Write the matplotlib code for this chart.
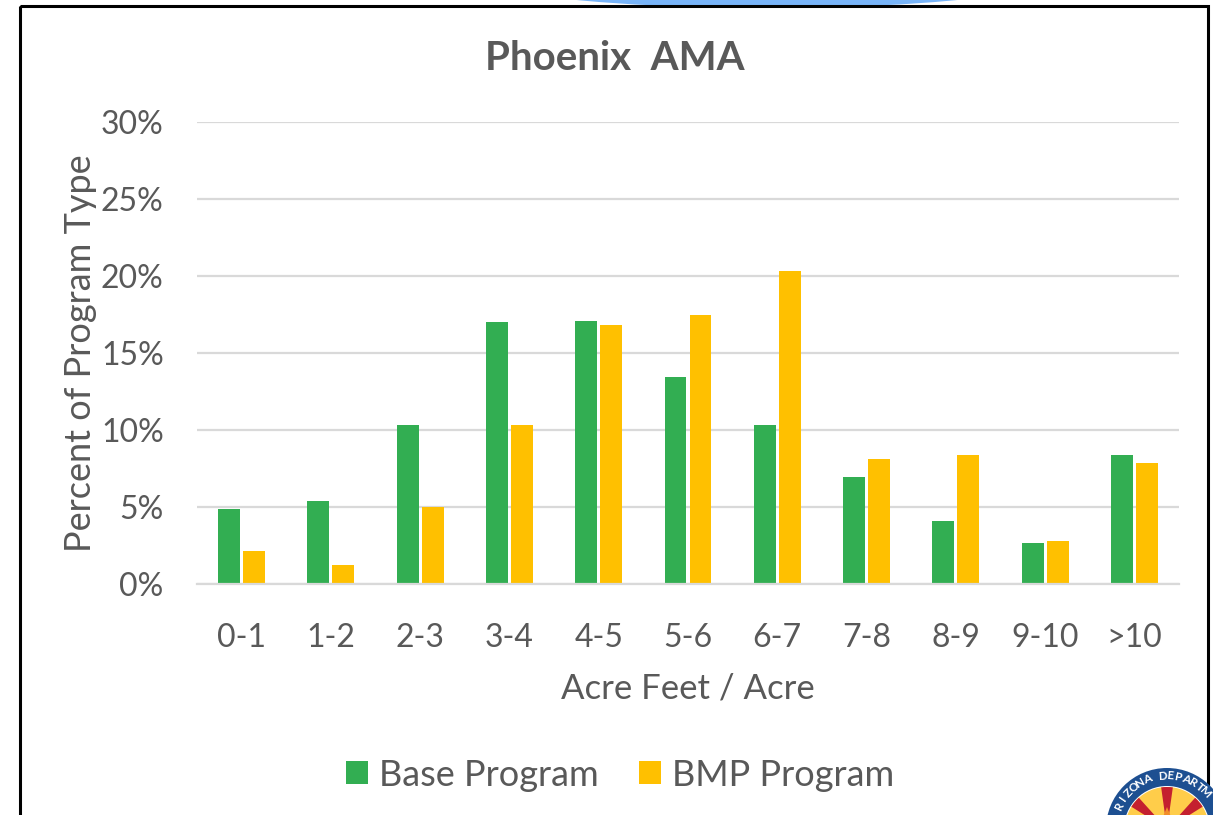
import matplotlib
matplotlib.use('Agg')
import matplotlib.pyplot as plt
from matplotlib.patches import Ellipse, Rectangle, Circle, Wedge, Polygon
import numpy as np

plt.rcParams['font.family'] = ['Lato', 'DejaVu Sans']

categories = ['0-1', '1-2', '2-3', '3-4', '4-5', '5-6', '6-7', '7-8', '8-9', '9-10', '>10']
base_program = [4.9, 5.4, 10.3, 17.0, 17.1, 13.45, 10.3, 6.95, 4.1, 2.65, 8.4]
bmp_program = [2.15, 1.25, 5.0, 10.3, 16.8, 17.5, 20.3, 8.1, 8.4, 2.8, 7.85]
y_ticks = [0, 5, 10, 15, 20, 25, 30]

W, H = 1213, 815
gray = '#595959'

fig = plt.figure(figsize=(W / 100, H / 100), dpi=100)

# slide stuff behind the chart, in pixel coords
bg = fig.add_axes([0, 0, 1, 1], zorder=0)
bg.set_xlim(0, W)
bg.set_ylim(H, 0)
bg.axis('off')
bg.add_patch(Ellipse((767, -22), 560, 60, color='#78b4f8', lw=0))
bg.add_patch(Rectangle((19.5, 6), 1188, 900, fill=False, ec='black', lw=2.2))

# chart
ax = fig.add_axes([197 / W, 1 - 584 / H, 982 / W, 462 / H], zorder=1)
ax.patch.set_alpha(0)
x = np.arange(len(categories))
ax.bar(x - 0.14, base_program, 0.246, color='#32ae52', label='Base Program', zorder=2)
ax.bar(x + 0.14, bmp_program, 0.246, color='#ffc000', label='BMP Program', zorder=2)
ax.set_xlim(-0.5, len(categories) - 0.5)
ax.set_ylim(0, 30)
ax.set_yticks(y_ticks)
ax.set_yticklabels([f'{v}%' for v in y_ticks])
ax.set_xticks(x)
ax.set_xticklabels(categories)
ax.grid(axis='y', color='#d9d9d9', lw=1.6, zorder=1)
ax.tick_params(axis='both', length=0, labelsize=23, labelcolor=gray)
ax.tick_params(axis='x', pad=28)
ax.tick_params(axis='y', pad=24)
for s in ['top', 'right', 'left']:
    ax.spines[s].set_visible(False)
ax.spines['bottom'].set_color('#d9d9d9')
ax.spines['bottom'].set_linewidth(1.6)
ax.set_xlabel('Acre Feet / Acre', fontsize=25, color=gray, labelpad=14)
ax.set_ylabel('Percent of Program Type', fontsize=26, color=gray, labelpad=3)
fig.text(615 / W, 1 - 58 / H, 'Phoenix  AMA', fontsize=29, fontweight='bold',
         color=gray, ha='center', va='center')
fig.legend(loc='center', bbox_to_anchor=(620 / W, 1 - 775 / H), ncol=2, frameon=False,
           fontsize=26, labelcolor=gray, handlelength=0.62, handleheight=0.62,
           handletextpad=0.3, columnspacing=1.1)

# agency seal, cut off by the bottom of the slide
top = fig.add_axes([0, 0, 1, 1], zorder=2)
top.set_xlim(0, W)
top.set_ylim(H, 0)
top.axis('off')
top.patch.set_alpha(0)
cx, cy = 1167, 829
top.add_patch(Circle((cx, cy), 61, color='#1d4f91', lw=0))
top.add_patch(Circle((cx, cy), 43, color='white', lw=0))
top.add_patch(Circle((cx, cy), 42, color='#ffcd4a', lw=0))
for a in [-90, -40, -140]:
    top.add_patch(Wedge((cx, cy), 42, a - 8, a + 8, color='#c4202f', lw=0))
top.add_patch(Polygon([(cx - 9, cy), (cx, cy - 22), (cx + 9, cy)], color='#f28c28', lw=0))

seal_text = 'RIZONA DEPARTM'
for i, ch in enumerate(seal_text):
    t = np.radians(-64 + i * 8.5)
    top.text(cx + 53 * np.sin(t), cy - 53 * np.cos(t), ch, fontsize=8.5, fontweight='bold',
             color='white', ha='center', va='center', rotation=-np.degrees(t))

fig.savefig('out.png', dpi=100)
